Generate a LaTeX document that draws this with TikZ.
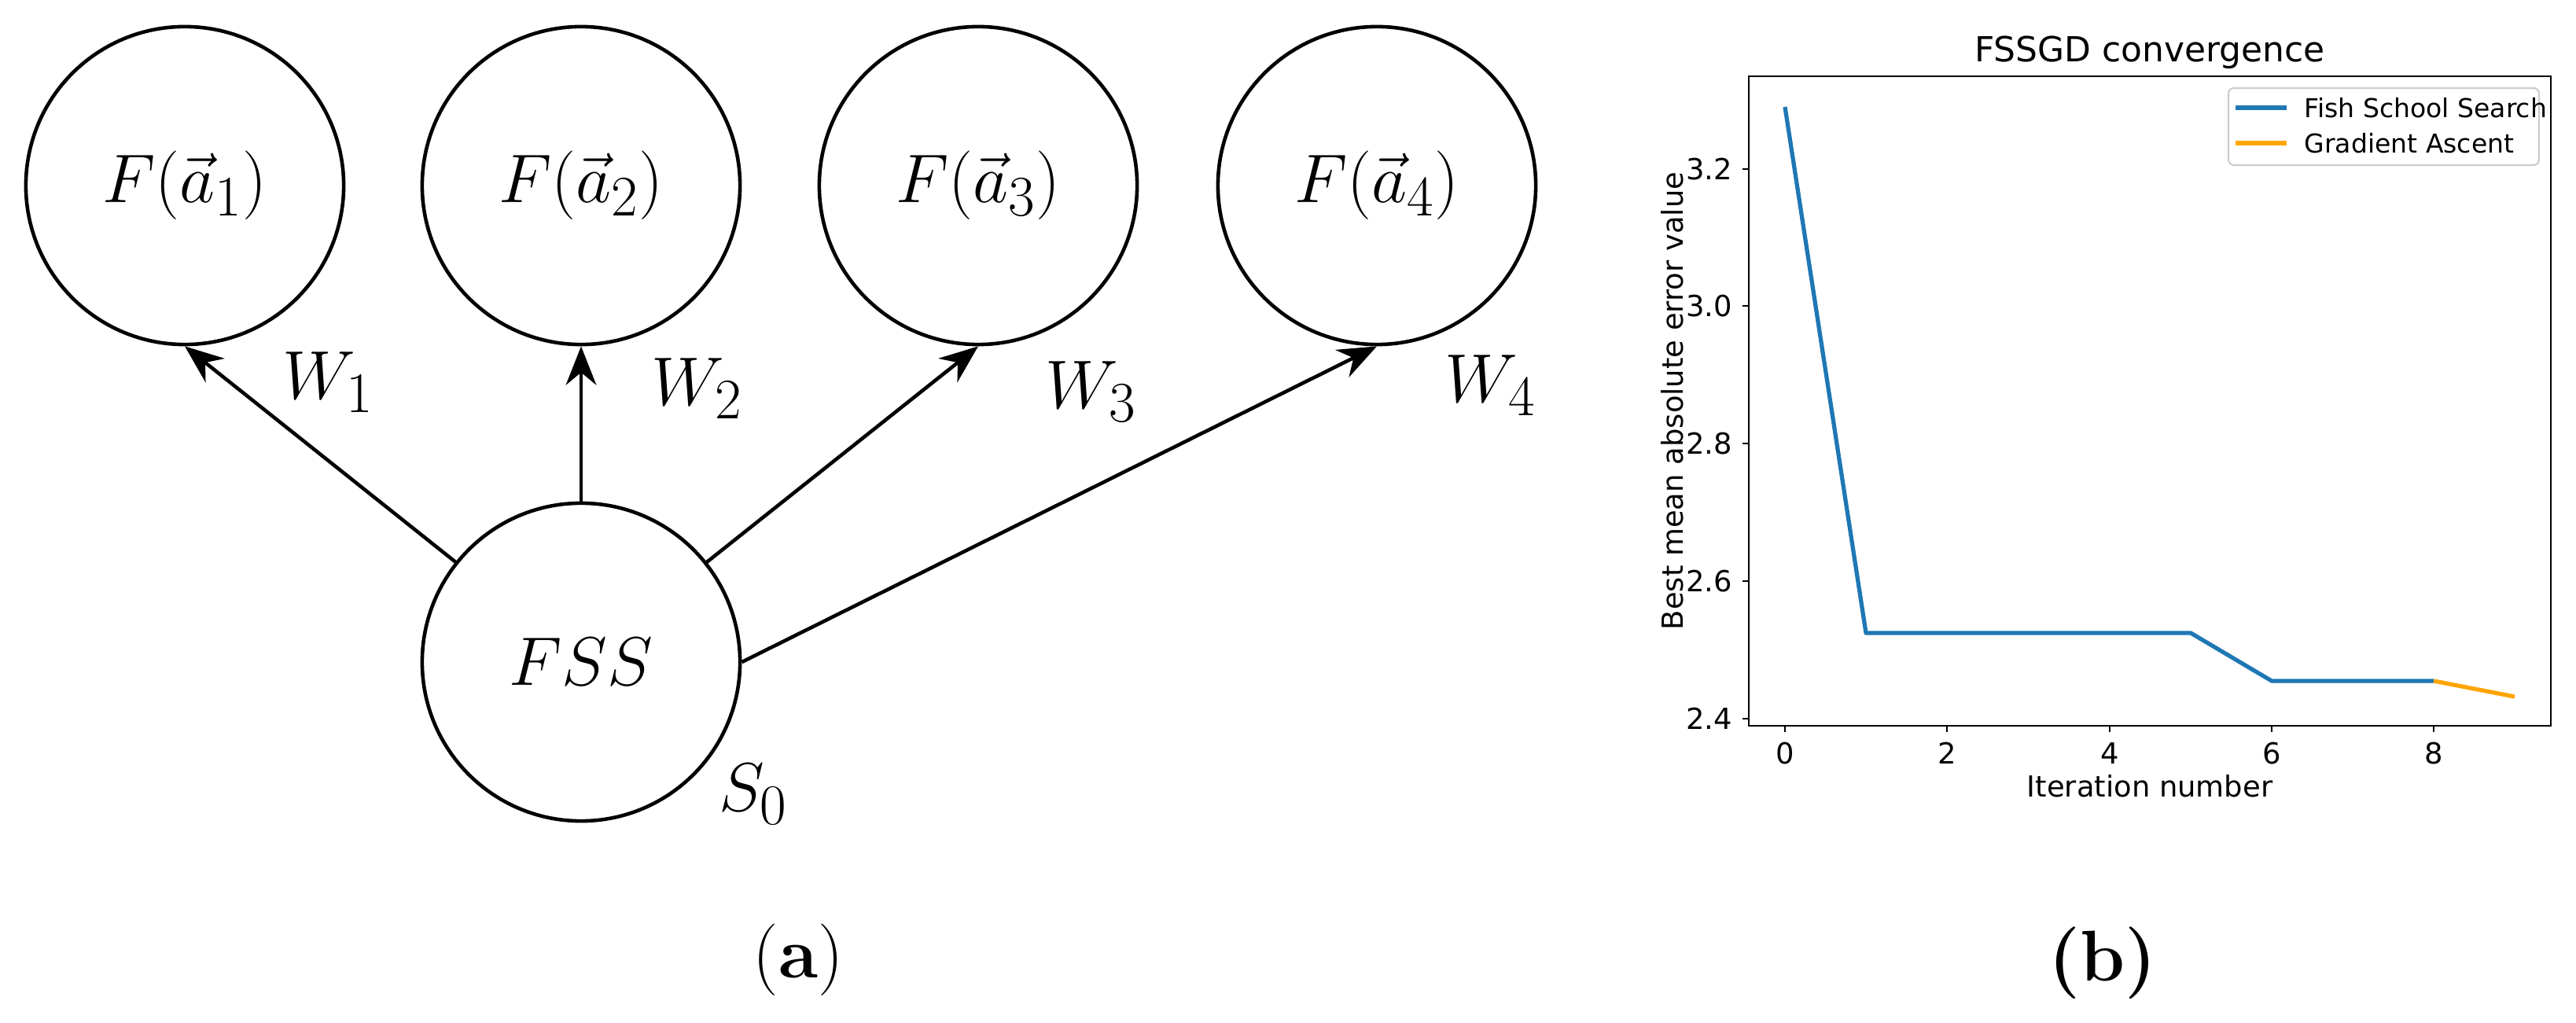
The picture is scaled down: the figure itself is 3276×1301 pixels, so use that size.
\documentclass[tikz,border=0pt]{standalone}
\usepackage{fontspec}
\newfontfamily\plotfont{DejaVu Sans}
\usetikzlibrary{arrows.meta}
\definecolor{mplblue}{HTML}{1F77B4}
\definecolor{mplorange}{HTML}{FFA500}
\begin{document}
\begin{tikzpicture}[x=0.01cm,y=-0.01cm,
    state/.style={draw,circle,line width=1.3pt,minimum size=4.04cm,inner sep=0pt,font=\fontsize{30}{36}\selectfont},
    weight/.style={font=\fontsize{28}{34}\selectfont},
    link/.style={line width=1.3pt,-{Stealth[length=14pt,width=11pt]}},
    tick/.style={font=\plotfont\fontsize{10.5}{12}\selectfont},
    legtext/.style={font=\plotfont\fontsize{9.4}{11}\selectfont}]
            \useasboundingbox (0,0) rectangle (3276,1301);
            % States
            \node[state] (c1) at (235,236)  {$F(\vec{a}_1)$};
            \node[state] (c2) at (739,236)  {$F(\vec{a}_2)$};
            \node[state] (c3) at (1244,236) {$F(\vec{a}_3)$};
            \node[state] (c4) at (1751,236) {$F(\vec{a}_4)$};
            \node[state] (fss) at (739,842) {$FSS$};

            \draw[link] (fss) -- (c1.south);
            \draw[link] (fss) -- (c2.south);
            \draw[link] (fss) -- (c3.south);
            \draw[link] (fss.east) -- (c4.south);

            \node[weight] (w1) at (418,486)  {$W_1$};
            \node[weight] (w2) at (887,494)  {$W_2$};
            \node[weight] (w3) at (1388,498) {$W_3$};
            \node[weight] (w4) at (1896,490) {$W_4$};
            \node[weight] (s0) at (958,1010) {$S_0$};
            \node[font=\fontsize{26}{30}\selectfont] (capa) at (1015,1221) {(\textbf{a})};

            % Plot
            \draw[line width=0.8pt] (2224,97) rectangle (3244,923);
            \foreach \x/\v in {2270/0,2476/2,2683/4,2889/6,3095/8}
                \draw[line width=0.8pt] (\x,923) -- (\x,931) node[tick,below] {\v};
            \foreach \y/\v in {914/2.4,739/2.6,564/2.8,389/3.0,215/3.2}
                \draw[line width=0.8pt] (2224,\y) -- (2216,\y) node[tick,left] {\v};
            \node[font=\plotfont\fontsize{12.5}{14}\selectfont] (title) at (2734,67) {FSSGD convergence};
            \node[tick] (xlab) at (2734,1000) {Iteration number};
            \node[tick,rotate=90] (ylab) at (2127,510) {Best mean absolute error value};
            \draw[mplblue,line width=1.5pt,line join=round] (2270,136) -- (2373,805) -- (2786,805) -- (2889,866) -- (3095,866);
            \draw[mplorange,line width=1.5pt] (3095,866) -- (3198,886);
            % Legend
            \draw[line width=0.6pt,draw=black!20,fill=white,rounded corners=2pt] (2834,112) rectangle (3229,210);
            \draw[mplblue,line width=1.5pt] (2843,137) -- (2908,137);
            \draw[mplorange,line width=1.5pt] (2843,182) -- (2908,182);
            \node[legtext,anchor=west,inner sep=0pt] (leg1) at (2930,137) {Fish School Search};
            \node[legtext,anchor=west,inner sep=0pt] (leg2) at (2930,182) {Gradient Ascent};
            \node[font=\bfseries\fontsize{26}{30}\selectfont] (capb) at (2674,1225) {(b)};
        \end{tikzpicture}
\end{document}
